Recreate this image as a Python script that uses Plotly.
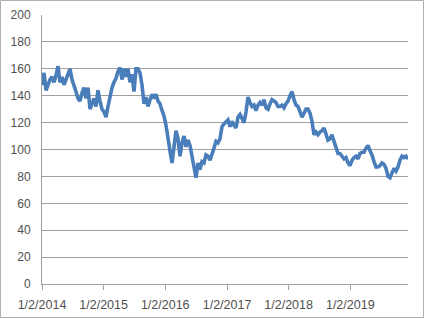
import pandas as pd
import plotly.graph_objects as go

start_date = "2014-01-02"
end_date = "2019-12-10"

values = [
    148, 157, 144, 148, 152, 154, 150, 155, 162, 150,
    154, 148, 152, 156, 160, 152, 148, 143, 138, 136,
    142, 146, 138, 146, 130, 134, 138, 132, 144, 136,
    130, 128, 124, 132, 140, 146, 150, 153, 158, 161,
    152, 160, 154, 160, 150, 156, 143, 160, 160, 157,
    148, 134, 139, 132, 137, 141, 138, 141, 136, 134,
    129, 125, 118, 106, 99, 90, 100, 114, 108, 95,
    105, 110, 102, 107, 103, 96, 88, 79, 90, 85,
    91, 90, 96, 95, 92, 96, 101, 106, 105, 108,
    117, 119, 121, 122, 117, 121, 118, 116, 124, 126,
    123, 120, 128, 139, 135, 132, 133, 129, 133, 135,
    133, 137, 131, 130, 134, 137, 136, 135, 132, 132,
    133, 131, 134, 136, 140, 143, 137, 133, 132, 128,
    124, 127, 130, 130, 127, 121, 111, 113, 111, 113,
    114, 116, 111, 107, 108, 111, 106, 102, 97, 97,
    95, 93, 94, 90, 88, 92, 94, 95, 93, 97,
    98, 98, 101, 103, 99, 96, 91, 87, 87, 88,
    90, 89, 86, 80, 79, 82, 86, 84, 87, 92,
    95, 94, 95, 93,
]

tick_dates = ["2014-01-02", "2015-01-02", "2016-01-02", "2017-01-02", "2018-01-02", "2019-01-02"]
tick_labels = ["1/2/2014", "1/2/2015", "1/2/2016", "1/2/2017", "1/2/2018", "1/2/2019"]
y_ticks = list(range(0, 201, 20))

dates = pd.date_range(start_date, end_date, periods=len(values))

W, H = 424, 318
ml, mr, mt, mb = 42, 16, 15, 34
pw, ph = W - ml - mr, H - mt - mb

grey = "#a0a0a0"
text_col = "#505050"

fig = go.Figure()
fig.add_trace(go.Scatter(
    x=dates, y=values, mode="lines",
    line=dict(color="#4A7EBB", width=3.6),
    hoverinfo="skip", showlegend=False,
))

fig.update_layout(
    width=W, height=H,
    margin=dict(l=ml, r=mr, t=mt, b=mb, pad=0, autoexpand=False),
    paper_bgcolor="white", plot_bgcolor="white",
    font=dict(family="Liberation Sans, Arial, sans-serif", size=12, color=text_col),
    xaxis=dict(
        type="date", range=[dates[0], dates[-1]],
        tickmode="array", tickvals=tick_dates, ticktext=tick_labels,
        ticks="outside", ticklen=5, tickcolor=grey, tickwidth=1,
        showline=True, linecolor=grey, linewidth=1,
        showgrid=False, zeroline=False, automargin=False,
        tickfont=dict(size=12.5, color=text_col),
        ticklabelstandoff=4,
    ),
    yaxis=dict(
        range=[0, 200], tickmode="array", tickvals=y_ticks,
        showgrid=True, gridcolor=grey, gridwidth=1,
        showline=True, linecolor=grey, linewidth=1,
        ticks="", zeroline=False, automargin=False,
        tickfont=dict(size=12, color=text_col),
        ticklabelstandoff=8,
    ),
    shapes=[dict(
        type="rect", xref="paper", yref="paper",
        x0=(0.5 - ml) / pw, x1=(W - 0.5 - ml) / pw,
        y0=(0.5 - mb) / ph, y1=(H - 0.5 - mb) / ph,
        line=dict(color="#b0b0b0", width=1), fillcolor="rgba(0,0,0,0)",
        layer="below",
    )],
)

fig.write_html("out.html", config={"displayModeBar": False})
